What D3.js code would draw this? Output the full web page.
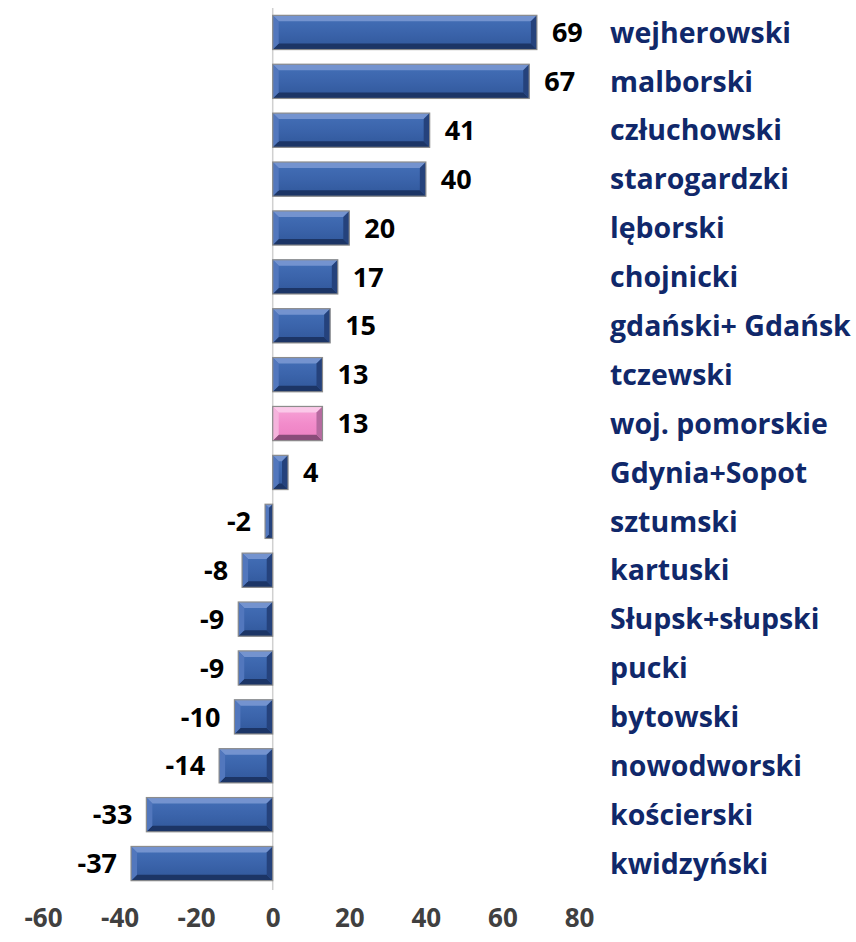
<!DOCTYPE html>
<html>
<head>
<meta charset="utf-8">
<script src="https://cdn.jsdelivr.net/npm/d3@7"></script>
<style>
  body { margin: 0; background: #fff; }
  text { font-family: "Open Sans", Lato, sans-serif; font-weight: 700; }
</style>
</head>
<body>
<div id="chart"></div>
<script>
const width = 856,
    height = 942;

// dane
const categories = ['wejherowski', 'malborski', 'człuchowski', 'starogardzki', 'lęborski',
    'chojnicki', 'gdański+ Gdańsk', 'tczewski', 'woj. pomorskie', 'Gdynia+Sopot',
    'sztumski', 'kartuski', 'Słupsk+słupski', 'pucki', 'bytowski', 'nowodworski',
    'kościerski', 'kwidzyński'];
const values = [69, 67, 41, 40, 20, 17, 15, 13, 13, 4, -2, -8, -9, -9, -10, -14, -33, -37];
const highlight = ['woj. pomorskie'];
const tickValues = [-60, -40, -20, 0, 20, 40, 60, 80];

const data = categories.map(function(c, i) {
    return { name: c, value: values[i] };
});

const svg = d3.select('#chart')
    .append('svg')
    .attr('width', width)
    .attr('height', height);

// gradienty
const defs = svg.append('defs');
function grad(id, stops) {
    const g = defs.append('linearGradient').attr('id', id)
        .attr('x1', 0).attr('y1', 0).attr('x2', 0).attr('y2', 1);
    stops.forEach(function(s) {
        g.append('stop').attr('offset', s[0]).attr('stop-color', s[1]);
    });
}
grad('blueFace', [[0, '#4470b8'], [0.5, '#3b64ab'], [1, '#30579a']]);
grad('pinkFace', [[0, '#f7a6d8'], [0.5, '#f28ccb'], [1, '#ec7fc1']]);

const theme = {
    blue: { face: 'url(#blueFace)', top: '#7c9ad4', bottom: '#1c3566', side: '#25427c', side2: '#5277bd' },
    pink: { face: 'url(#pinkFace)', top: '#fbd0ec', bottom: '#8a4c79', side: '#b66aa0', side2: '#f5b3dc' }
};

const x = d3.scaleLinear()
    .domain([-60, 80])
    .range([43, 579]);

const y = d3.scaleBand()
    .domain(categories)
    .range([8, 888])
    .paddingInner(0.3)
    .paddingOuter(0.15);

// oś zero
svg.append('line')
    .attr('x1', x(0)).attr('x2', x(0))
    .attr('y1', 8).attr('y2', 890)
    .attr('stroke', '#d0d0d0')
    .attr('stroke-width', 1.5);

const bars = svg.append('g')
    .selectAll('g')
    .data(data)
    .enter()
    .append('g')
    .attr('transform', function(d) {
        return 'translate(' + x(Math.min(0, d.value)) + ',' + y(d.name) + ')';
    });

bars.each(function(d) {
    const g = d3.select(this);
    const w = Math.abs(x(d.value) - x(0));
    const h = y.bandwidth();
    const t = theme[highlight.indexOf(d.name) >= 0 ? 'pink' : 'blue'];
    const b = Math.min(6, w / 2);
    g.append('rect').attr('width', w).attr('height', h).attr('fill', t.face);
    // krawędzie fazowane
    g.append('polygon').attr('points', [[0, 0], [w, 0], [w - b, b], [b, b]].join(' '))
        .attr('fill', t.top).attr('opacity', 0.85);
    g.append('polygon').attr('points', [[0, h], [w, h], [w - b, h - b], [b, h - b]].join(' '))
        .attr('fill', t.bottom);
    g.append('polygon').attr('points', [[w, 0], [w, h], [w - b, h - b], [w - b, b]].join(' '))
        .attr('fill', t.side);
    g.append('polygon').attr('points', [[0, 0], [0, h], [b, h - b], [b, b]].join(' '))
        .attr('fill', t.side2);
    g.append('rect').attr('width', w).attr('height', h)
        .attr('fill', 'none').attr('stroke', '#8c8c8c').attr('stroke-width', 1.2);
});

// etykiety wartości
svg.append('g')
    .selectAll('text')
    .data(data)
    .enter()
    .append('text')
    .attr('x', function(d) {
        return d.value >= 0 ? x(d.value) + 15 : x(d.value) - 14;
    })
    .attr('y', function(d) { return y(d.name) + y.bandwidth() / 2; })
    .attr('dy', '0.36em')
    .attr('text-anchor', function(d) { return d.value >= 0 ? 'start' : 'end'; })
    .attr('font-size', 27)
    .attr('fill', '#000')
    .text(function(d) { return d.value; });

// nazwy kategorii
svg.append('g')
    .selectAll('text')
    .data(data)
    .enter()
    .append('text')
    .attr('x', 610)
    .attr('y', function(d) { return y(d.name) + y.bandwidth() / 2; })
    .attr('dy', '0.36em')
    .attr('font-size', 28.5)
    .attr('fill', '#10286a')
    .text(function(d) { return d.name; });

// oś x
const xAxis = d3.axisBottom(x)
    .tickValues(tickValues)
    .tickFormat(function(d) { return String(d); })
    .tickSize(0)
    .tickPadding(0);
const ax = svg.append('g')
    .attr('transform', 'translate(0,918)')
    .call(xAxis);
ax.select('.domain').remove();
ax.selectAll('text')
    .attr('dy', '0.36em')
    .attr('y', 0)
    .attr('font-size', 26)
    .attr('fill', '#404040')
    .style('font-family', '"Open Sans", sans-serif')
    .style('font-weight', 700);
</script>
</body>
</html>
